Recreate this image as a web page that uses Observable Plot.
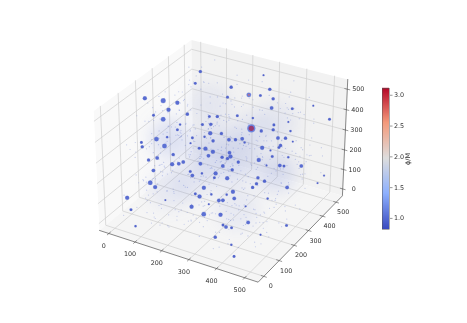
<!DOCTYPE html>
<html><head><meta charset="utf-8">
<style>html,body{margin:0;padding:0;background:#fff}#c{position:relative;width:467px;height:323px;overflow:hidden}#c svg{position:absolute;top:0}</style>
<script src="https://cdn.jsdelivr.net/npm/d3@7"></script>
<script src="https://cdn.jsdelivr.net/npm/@observablehq/plot@0.6"></script>
</head><body><div id="c"></div>
<script>
const axisTicks=[0,100,200,300,400,500];
const limits=[-36,547];
const barTicks=[1,1.5,2,2.5,3];
const phiDomain=[0.82,1.393,1.965,2.538,3.11];
const coolwarm=["#3b4cc0","#8db0fe","#dddddd","#f49a7b","#b40426"];

const blobX=[-8,45,86,67,123,30,60,125,120,221,186,208,173,196,111,108,202,156,189,233,259,85,57,216,18,24,85,155,183,201,224,116,215,254,270,271,74,52,121,139,150,74,199,263,249,177,186,211,249,285,75,92,228,209,223,254,297,280,291,23,131,255,209,43,249,296,311,321,69,299,303,223,332,278,311,349,352,410,466,263,308,522,410,312,372,374,342,423,394,415,438,277,295,305,358,407,404,383,277,438,358,393,421,433,481,384,303,292,370,391,371,363,459,552,540,312,321,414,359,379,488,337,423,350,367];
const blobY=[209,235,255,231,255,199,209,335,311,343,287,300,265,279,229,217,265,230,251,283,286,191,171,259,142,137,174,220,227,236,244,176,231,251,258,269,146,129,161,172,182,122,207,240,218,180,178,196,210,230,100,102,179,157,160,182,206,185,192,42,100,164,133,32,142,168,158,160,16,129,432,363,422,381,398,414,399,431,469,333,355,476,406,338,379,371,350,397,367,379,386,297,309,307,328,361,356,338,265,357,306,332,332,338,366,311,270,250,280,286,269,258,313,389,368,220,213,266,220,202,259,168,205,144,132];
const blobZ=[467,458,450,424,408,404,389,566,522,471,399,399,369,370,369,350,337,320,324,336,313,322,315,309,303,287,290,300,281,280,268,258,253,248,243,265,245,238,222,224,230,199,224,215,188,195,180,188,172,170,153,137,135,112,102,110,109,88,88,98,89,74,64,53,37,35,-4,-11,-8,-49,552,508,500,479,477,465,431,428,439,402,393,389,379,355,368,350,346,345,319,319,306,313,316,303,283,292,284,273,251,248,238,251,217,215,215,217,230,201,172,159,150,136,136,180,152,120,95,95,66,6,-5,-14,-40,-77,-120];
const blobSize=[9,11,9,9,7,6,10,7,6,6,6,7,6,7,5,6,9,6,5,7,8,5,10,7,6,7,10,4,6,9,9,7,8,7,7,8,8,7,9,8,8,8,8,8,9,6,8,5,6,9,10,9,9,6,9,5,5,8,8,9,4,4,9,6,10,9,6,8,5,7,4,7,7,10,6,7,8,6,4,6,5,6,4,18,6,7,7,5,8,7,4,7,8,5,9,7,6,4,9,5,9,6,8,6,8,4,7,7,7,7,7,7,8,4,4,9,8,5,4,8,6,6,4,5,6];
const blobPhi=[0.95,0.98,0.95,0.95,0.92,0.9,0.98,0.92,0.92,0.92,0.9,0.92,0.9,0.92,0.9,0.9,0.95,0.9,0.9,0.92,0.95,0.9,0.98,0.92,0.9,0.92,0.98,0.88,0.9,0.95,0.95,0.92,0.95,0.92,0.92,0.95,0.95,0.92,0.95,0.95,0.95,0.95,0.95,0.95,0.95,0.9,0.95,0.9,0.9,0.95,0.98,0.95,0.95,0.9,0.95,0.9,0.9,0.95,0.95,0.95,0.88,0.88,0.95,0.9,0.98,0.95,0.9,0.95,0.9,0.92,0.88,0.92,0.92,1.05,0.9,0.92,0.95,0.9,0.88,0.9,0.9,0.9,0.88,1.1,0.9,0.92,0.92,0.9,0.95,0.92,0.88,0.92,0.95,0.9,0.95,0.92,0.9,0.88,0.95,0.9,0.95,0.9,0.95,0.9,0.95,0.88,0.92,0.92,0.92,0.92,0.92,0.92,0.95,0.88,0.88,0.95,0.95,0.9,0.88,0.95,0.9,0.9,0.88,0.9,0.9];
const coreX=[312,278], coreY=[338,381], coreZ=[355,479], coreSize=[12,5], corePhi=[3.1,2.7];

const hazeX=[255,130,380,130,380,130,380,130,380,255,255,60,450];
const hazeY=[255,130,130,380,380,130,130,380,380,60,450,255,255];
const hazeZ=[255,130,130,130,130,380,380,380,380,255,255,255,255];
const hazeSize=[150,95,95,95,95,95,95,95,95,85,85,85,85];

const speckX=[12,431,87,266,498,143,359,28,205,472,64,318,181,409,97,250,5,386,137,454,226,73,339,491,168,292,44,417,119,273,508,192,358,33,241,466,106,325,79,439,212,151,383,16,296,478,128,234,59,402,173,345,91,505,262,20,448,195,311,137,376,52,228,489,104,289,413,160,7,334,245,427,82,364,199,499,41,277,146,392,113,461,219,68,331,175,441,24,254,370,96,483,203,307,125,419,57,349,186,271,11,457,139,382,236,74,316,494,162,403,34,287,110,447,215,352,88,476,191,263,48,425,130,339,509,224,71,395,156,301,19,463,243,119,368,81,435,208,328,171,502,39,283,144,411,93,257,374,62,488,197,320,15,442,134,356,230,101,471,178,294,55,406,149,267,497,26,388,214,85,343,123,453,252,46,312,167,430,76,379,500,239,115,421,202,30,336,158,469,280,66,397,183,9,444,127,361,248,90,485,188,304,50,414,141,274,507,37,372,221,99,458,163,333,17,400,210,78,491,297,132,437,258,60,366,193,481,109,323,42,416,155,285,2,450,176,347,94,504,233,121,389,69,462,206,314,23,428,147,268,83,377,510,184,299,53,408,116,246,474,31,355,165,440,222,75,391,135,329,13,486,201,279,104,423,58,341,170,495,253,36,384,152,310,67,446,229,112,399,190,467,21,275,129,362,86,433,217,306,44,490,174,351,98,
 293,70,448,156,331,22,409,183,265,501,118,360,47,240,475,92,315,199,436,8,278,143,394,61,227,483,169,349,105,420,251,34,372,192,457,79,304,128,493,213,386,55,161,441,289,16,337,237,110,468,204,73,354,426,146,271,505,38,319,182,402,96,260,450,133,28,378,222,480,65,344,177,415,248,114,497,88,301,196,432,10,363,155,276,459,52,326,209,391,124,488,233,76,410,167,296,42,445,138,355,268,506,100,218,381,58,322,187,470,29,252,422,149,340,84,398,206,511,117,283,66,437,174,365,242,13,462,131,308,194,413,90,347,228,486,49,274,154,404,335,109,220,494,71,376,163,295,440,32,259,122,428,201,357,80,478,188,312,19,445,140,263,392,97,236,500,56,367,175,418,290,125,23,453,212,342,68,386,158,472,247,103,329,36,407,197,284,464,83,352,134,423,254,45,490,172,318,111,399,216,60,375,145,282,508,94,433,231,18,338,179,466,120,299,75,416,208,362,27,481,150,270,396,87,241,349,127,498,63,320,186,455,224,6,383,100,291,435,164];
const speckY=[240,77,412,156,331,24,489,198,62,283,445,119,370,8,301,226,95,468,183,39,354,271,133,426,57,499,212,320,86,391,167,15,278,452,108,233,361,48,505,144,297,416,73,189,338,22,264,479,126,383,52,205,440,93,318,161,19,397,251,474,35,136,348,78,222,459,287,112,366,44,191,431,254,6,327,150,405,69,483,215,100,376,28,293,246,461,123,340,56,424,174,3,310,231,497,82,388,140,268,33,449,199,359,11,305,470,90,237,413,65,178,335,128,492,275,41,216,385,154,54,443,98,322,258,14,477,186,369,72,295,117,429,227,47,503,164,350,88,276,401,21,209,464,131,346,60,288,172,435,104,379,243,30,486,147,313,75,262,418,1,194,356,115,456,239,37,328,85,394,159,507,220,51,299,142,437,18,266,373,96,202,480,127,343,66,285,411,158,25,363,248,107,472,184,330,43,421,93,270,511,168,58,390,225,124,454,16,308,196,367,81,433,145,292,34,403,255,110,488,176,326,63,441,230,12,381,138,281,495,71,211,352,103,466,180,28,315,247,399,129,53,458,192,336,84,273,425,10,163,378,119,500,219,46,303,152,447,91,260,365,38,485,207,134,409,76,321,241,5,392,170,56,468,285,113,344,23,436,200,151,374,68,494,256,32,312,182,419,99,228,463,140,350,79,290,508,42,213,383,125,264,448,17,333,160,402,
 31,344,175,462,98,237,410,67,296,139,489,20,361,215,83,431,154,306,508,46,272,187,394,109,450,228,12,339,165,480,75,289,420,133,52,378,250,496,102,317,194,443,60,268,149,407,26,357,221,473,88,298,170,5,385,127,261,454,40,333,198,416,77,245,500,115,349,183,28,436,295,66,212,372,143,477,9,325,236,95,403,160,283,510,54,191,441,122,309,73,390,206,467,35,274,147,356,18,429,105,238,492,81,319,176,48,397,255,134,459,2,341,223,62,414,168,301,91,487,197,373,43,266,128,438,15,330,208,103,455,248,69,384,156,503,37,290,179,423,112,351,24,474,230,86,311,145,406,58,262,193,498,11,367,121,279,446,78,216,334,49,401,163,287,7,464,100,244,375,136,506,65,320,189,432,30,253,118,393,71,346,204,481,14,277,152,417,94,309,232,55,470,173,362,126,21,439,257,84,398,200,326,44,490,141,284,108,379,3,452,219,63,335,167,425,97,270,512,39,188,355,130,408,76,246];
const speckZ=[388,105,247,462,31,316,174,441,89,270,503,140,352,215,67,425,294,12,478,196,121,339,58,410,263,150,492,29,367,227,84,448,311,176,38,400,132,283,509,72,239,357,18,464,191,115,326,53,431,268,6,379,204,144,497,92,250,343,161,23,420,299,78,471,186,126,365,44,231,508,108,277,395,15,333,169,455,61,243,136,386,209,97,474,322,34,156,414,280,3,361,193,486,74,257,129,437,49,305,218,396,112,346,26,468,181,271,87,423,154,300,41,500,223,373,65,141,452,290,103,19,336,198,479,82,255,408,35,165,375,119,490,234,57,312,147,443,8,262,389,96,203,354,70,482,127,286,430,45,175,319,238,14,461,100,348,210,503,63,158,397,274,28,118,440,221,85,369,184,495,51,304,139,415,11,252,333,93,476,167,36,381,226,123,458,295,75,403,199,56,329,146,488,240,21,360,106,426,279,170,42,512,90,315,213,68,447,133,383,256,4,172,405,294,114,467,60,341,229,33,152,499,81,267,392,124,47,435,206,358,16,288,178,470,99,324,246,69,412,137,26,484,190,301,117,377,55,445,261,10,163,349,230,505,76,130,418,292,39,201,364,88,473,145,314,20,244,427,109,185,338,50,491,275,98,402,159,30,456,217,370,73,128,310,236,494,43,180,387,13,285,120,449,62,343,195,24,433,265,86,155,372,479,5,224,300,104,419,52,187,346,134,260,465,
 212,57,396,143,478,26,331,260,91,445,170,7,368,237,504,118,284,63,419,195,340,15,472,148,251,86,393,310,36,460,175,228,499,104,352,69,281,433,132,19,405,206,323,77,487,154,264,42,376,111,449,295,3,218,362,128,510,83,247,409,165,30,334,492,98,273,186,426,54,138,381,300,10,464,222,72,355,159,412,117,289,46,496,200,341,24,253,437,93,178,386,61,306,146,508,232,16,421,125,275,84,366,197,453,39,313,108,480,243,152,399,5,330,68,267,440,181,35,505,134,296,213,74,416,166,349,50,477,101,258,384,12,190,328,447,121,65,288,410,142,501,229,27,372,95,304,171,436,56,255,389,113,19,468,208,337,80,149,424,282,44,490,161,358,236,88,403,127,317,1,455,198,270,60,377,105,487,225,33,342,156,431,73,292,183,512,118,250,48,395,169,321,90,458,214,9,364,136,278,407,66,203,483,100,345,29,261,174,442,82,310,153,498,22,236,379,115];

const DIST=10,U=[.8660254,.5,0],V=[-.25,.4330127,.8660254],W=[.4330127,-.75,.5];
const HX=.595,HZ=.4465;
function project(x,y,z){
  const t=v=>(v-limits[0])/(limits[1]-limits[0]);
  const P=[(2*t(x)-1)*HX,(2*t(y)-1)*HX,(2*t(z)-1)*HZ];
  const dot=(a,b)=>a[0]*b[0]+a[1]*b[1]+a[2]*b[2];
  const d=DIST-dot(W,P);
  return {u:dot(U,P)/d,v:dot(V,P)/d};
}
const [lo,hi]=limits;
const pt=(x,y,z,extra={})=>({...project(x,y,z),...extra});
const colorScale={type:"linear",domain:phiDomain,range:coolwarm};

const panes=[
 {fill:"#f9f9f9",c:[[lo,lo,lo],[lo,hi,lo],[lo,hi,hi],[lo,lo,hi]]},
 {fill:"#f2f2f2",c:[[lo,hi,lo],[hi,hi,lo],[hi,hi,hi],[lo,hi,hi]]},
 {fill:"#f5f5f5",c:[[lo,lo,lo],[hi,lo,lo],[hi,hi,lo],[lo,hi,lo]]}
];
const grid=[];
axisTicks.forEach(t=>{
 [[[t,lo,lo],[t,hi,lo],[t,hi,hi]],[[lo,t,hi],[lo,t,lo],[hi,t,lo]],[[hi,hi,t],[lo,hi,t],[lo,lo,t]]]
  .forEach((path,i)=>path.forEach(c=>grid.push(pt(...c,{k:i+"-"+t}))));
});
const spine=[[lo,lo,lo],[hi,lo,lo],[hi,hi,lo],[hi,hi,hi]].map(c=>pt(...c));
const tk=[];
axisTicks.forEach(t=>{
 [[[t,lo+9,lo],[t,lo-9,lo]],[[hi-9,t,lo],[hi+9,t,lo]],[[hi-9,hi,t],[hi+9,hi,t]]]
  .forEach((seg,i)=>seg.forEach(c=>tk.push(pt(...c,{k:i+"-"+t}))));
});
const labX=axisTicks.map(t=>pt(t,lo,lo,{t}));
const labY=axisTicks.map(t=>pt(hi,t,lo,{t}));
const labZ=axisTicks.map(t=>pt(hi,hi,t,{t}));
const nSpecks=Math.min(speckX.length,speckY.length,speckZ.length);
const specks=speckX.slice(0,nSpecks).map((x,i)=>project(x,speckY[i],speckZ[i]));
const haze=hazeX.map((x,i)=>pt(x,hazeY[i],hazeZ[i],{s:hazeSize[i]}));
const blobs=blobX.map((x,i)=>pt(x,blobY[i],blobZ[i],{s:blobSize[i],phi:blobPhi[i]}));
const cores=coreX.map((x,i)=>pt(x,coreY[i],coreZ[i],{s:coreSize[i],phi:corePhi[i]}));
const tickText={fontSize:6.4,fill:"#333",fontFamily:"DejaVu Sans"};

const main=Plot.plot({
 width:467,height:323,margin:0,
 style:{background:"transparent",filter:"blur(0.35px)"},
 x:{domain:[-.14584,.15998],range:[0,467],axis:null},
 y:{domain:[-.11044,.10151],range:[323,0],axis:null},
 r:{type:"linear",domain:[0,40],range:[0,8.8]},
 color:colorScale,
 marks:[
  ...panes.map(p=>Plot.line(p.c.map(c=>project(...c)),{x:"u",y:"v",fill:p.fill,stroke:"none"})),
  Plot.line(grid,{x:"u",y:"v",z:"k",stroke:"#cfcfcf",strokeWidth:.7}),
  Plot.dot(haze,{x:"u",y:"v",r:"s",fill:"#6f84dc",fillOpacity:.1,stroke:"none",imageFilter:"blur(8px)"}),
  Plot.dot(specks,{x:"u",y:"v",r:.6,fill:"#4f66cc",fillOpacity:.3,stroke:"none"}),
  Plot.dot(blobs,{x:"u",y:"v",r:d=>d.s+1.5,fill:"phi",fillOpacity:.3,stroke:"none"}),
  Plot.dot(blobs,{x:"u",y:"v",r:"s",fill:"phi",fillOpacity:.9,stroke:"none"}),
  Plot.dot(cores,{x:"u",y:"v",r:"s",fill:"phi",fillOpacity:.6,stroke:"none"}),
  Plot.line(spine,{x:"u",y:"v",stroke:"#555",strokeWidth:.7}),
  Plot.line(tk,{x:"u",y:"v",z:"k",stroke:"#555",strokeWidth:.6}),
  Plot.text(labX,{x:"u",y:"v",text:d=>String(d.t),dx:-5,dy:12,...tickText}),
  Plot.text(labY,{x:"u",y:"v",text:d=>String(d.t),dx:7,dy:10,...tickText}),
  Plot.text(labZ,{x:"u",y:"v",text:d=>String(d.t),dx:11,dy:0,...tickText})
 ]
});

const barRamp=d3.range(141).map(i=>phiDomain[0]+(phiDomain[4]-phiDomain[0])*i/141);
const barStep=(phiDomain[4]-phiDomain[0])/141;
const bar=Plot.plot({
 width:107,height:323,marginTop:88,marginBottom:94,marginLeft:22,marginRight:78,
 style:{background:"transparent",filter:"blur(0.35px)"},
 x:{domain:[0,1],axis:null},
 y:{domain:[phiDomain[0],phiDomain[4]],axis:null},
 color:colorScale,
 marks:[
  Plot.rect(barRamp,{x1:0,x2:1,y1:d=>d,y2:d=>d+barStep*1.2,fill:d=>d,stroke:"none"}),
  Plot.frame({stroke:"#555",strokeWidth:.5}),
  Plot.axisY(barTicks,{anchor:"right",tickSize:2.5,tickPadding:2,tickFormat:".1f",label:null,stroke:"#555",strokeWidth:.6,color:"#333",fontSize:6.4,fontFamily:"DejaVu Sans",fill:"#333"}),
  Plot.text(["ϕ/M"],{x:3.7,y:phiDomain[2],text:d=>d,rotate:-90,...tickText})
 ]
});
bar.style.left="360px";
main.style.left="0px";
const c=document.getElementById("c");
c.append(main,bar);
</script>
</body></html>
